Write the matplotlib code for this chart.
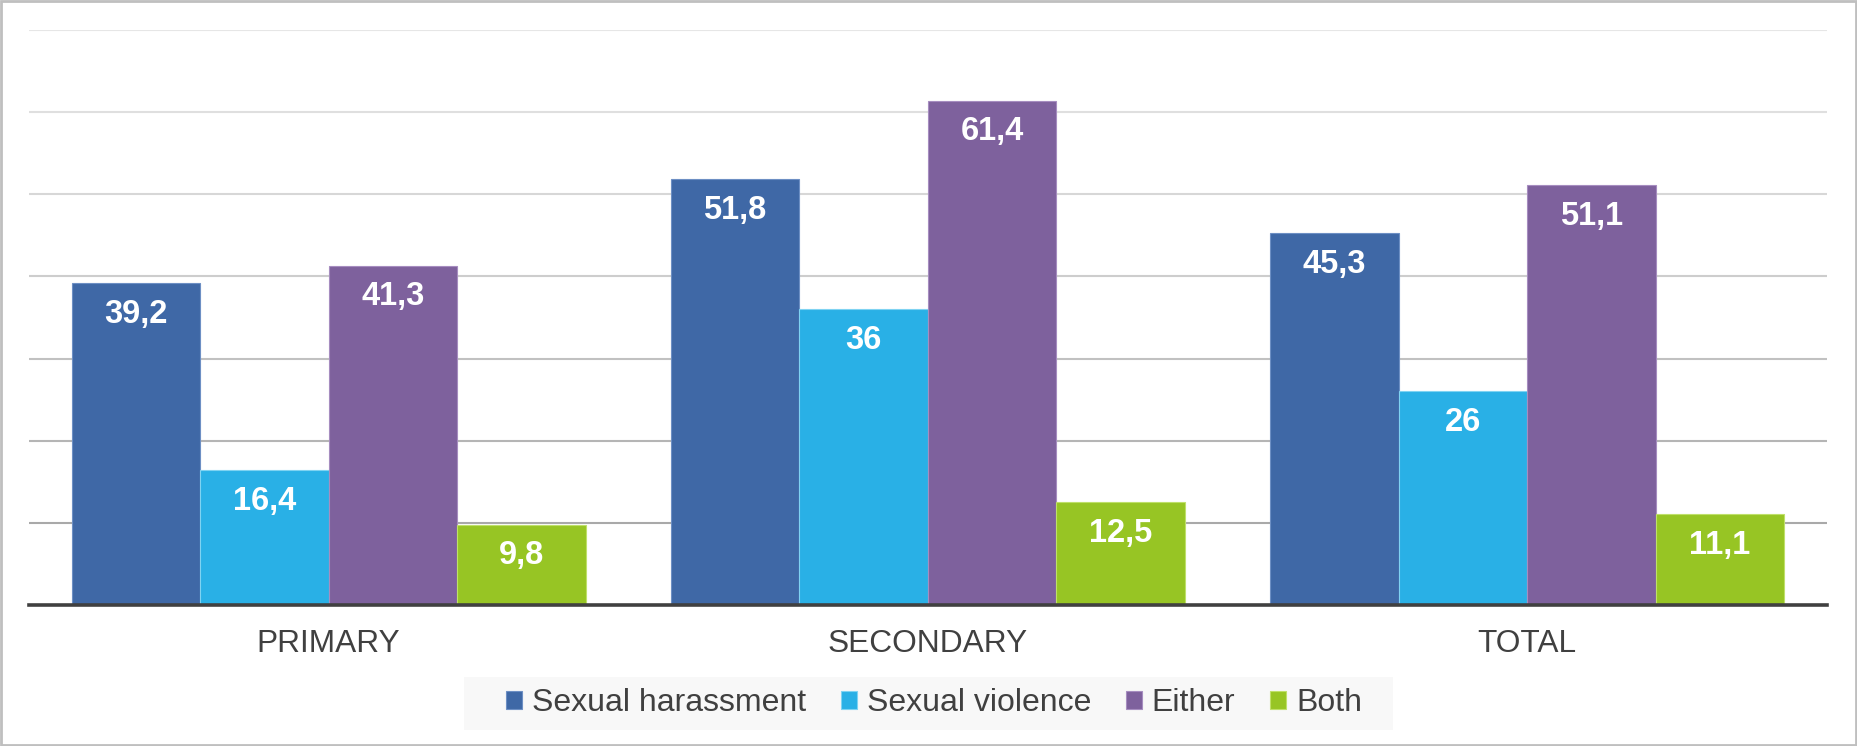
import matplotlib
matplotlib.use("Agg")
import matplotlib.pyplot as plt
import numpy as np
from matplotlib.patches import Rectangle

plt.rcParams['font.family'] = ['Liberation Sans', 'DejaVu Sans']

# data
categories = ['PRIMARY', 'SECONDARY', 'TOTAL']
series_names = ['Sexual harassment', 'Sexual violence', 'Either', 'Both']
harassment = [39.2, 51.8, 45.3]
violence = [16.4, 36, 26]
either = [41.3, 61.4, 51.1]
both = [9.8, 12.5, 11.1]
series = [harassment, violence, either, both]

colors = ['#3f68a6', '#29b0e6', '#7e619d', '#97c524']
edges = ['#6d8fc4', '#7fd3f2', '#a68dc0', '#bfe06a']
text_col = '#404040'

fig = plt.figure(figsize=(18.57, 7.46), dpi=100)
ax = fig.add_axes([0.0156, 0.189, 0.9682, 0.7708])

x = np.arange(len(categories))
w = 0.2145
for i, (name, vals) in enumerate(zip(series_names, series)):
    pos = x + (i - 1.5) * w
    bars = ax.bar(pos, vals, width=w, color=colors[i], edgecolor=edges[i],
                  linewidth=0.8, label=name, zorder=3)
    for b, v in zip(bars, vals):
        lab = ('%g' % v).replace('.', ',')
        ax.annotate(lab, xy=(b.get_x() + b.get_width() / 2, v),
                    xytext=(0, -22.5), textcoords='offset points',
                    ha='center', va='center', color='white',
                    fontsize=23.5, fontweight='bold', zorder=4)

ax.set_xlim(-0.5, 2.5)
ax.set_ylim(0, 70)

# gridlines get darker towards the bottom
grid_cols = ['#a9a9a9', '#b5b5b5', '#c1c1c1', '#cdcdcd', '#d7d7d7', '#dfdfdf', '#e6e6e6']
for yv, gc in zip(range(10, 80, 10), grid_cols):
    ax.axhline(yv, color=gc, linewidth=1.5, zorder=1)
ax.axhline(0, color=text_col, linewidth=2.6, zorder=5, clip_on=False)

for s in ax.spines.values():
    s.set_visible(False)
ax.set_yticks([])
ax.set_xticks(x)
ax.set_xticklabels(categories, fontsize=22.8, color=text_col)
ax.tick_params(axis='x', length=0, pad=17)

# legend background box
fig.patches.append(Rectangle((0.2499, 0.0214), 0.5003, 0.071, transform=fig.transFigure,
                             facecolor='#f8f8f8', edgecolor='none', zorder=0))
leg = fig.legend(loc='center', bbox_to_anchor=(0.503, 0.057), ncol=4,
                 frameon=False, fontsize=23, handlelength=0.5, handleheight=0.5,
                 handletextpad=0.3, columnspacing=1.1, borderpad=0.3,
                 labelcolor=text_col)

# outer border
fig.patches.append(Rectangle((0.0005, 0.001), 0.999, 0.998, transform=fig.transFigure,
                             fill=False, edgecolor='#bfbfbf', linewidth=2))

fig.savefig('out.png', dpi=100, facecolor='white')
